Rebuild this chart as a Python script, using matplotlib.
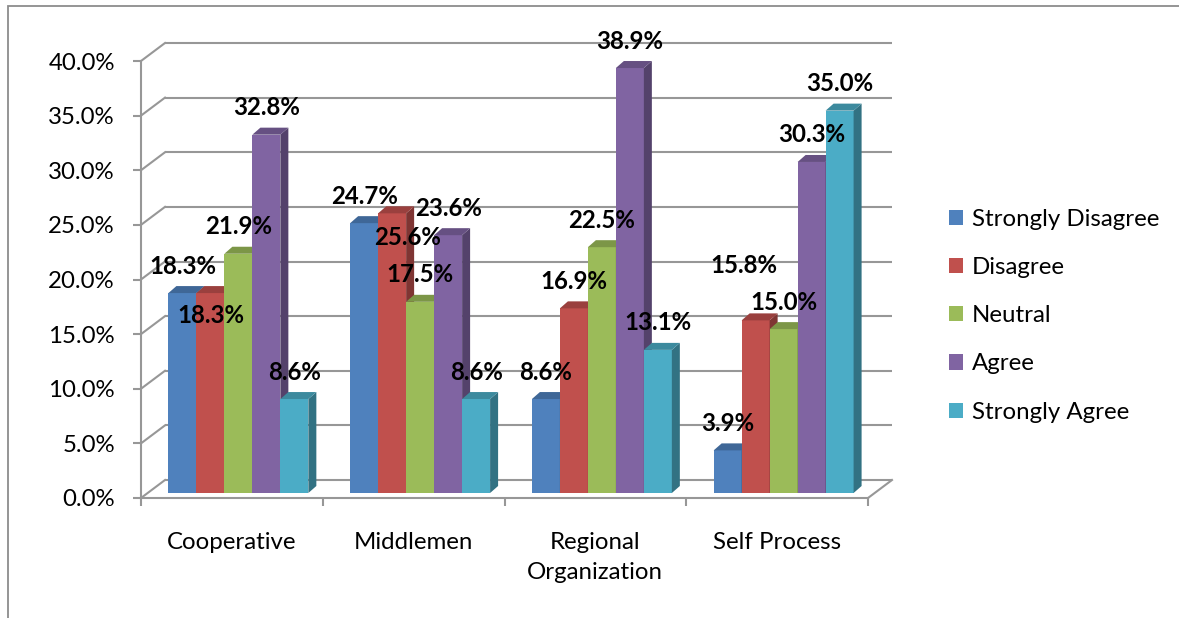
import matplotlib
matplotlib.use("Agg")
import matplotlib.pyplot as plt
from matplotlib.patches import Polygon, Rectangle, Patch
from matplotlib.lines import Line2D
from matplotlib.transforms import offset_copy, IdentityTransform
import numpy as np

# ---- data -------------------------------------------------------------
categories = ["Cooperative", "Middlemen", "Regional\nOrganization", "Self Process"]
series_names = ["Strongly Disagree", "Disagree", "Neutral", "Agree", "Strongly Agree"]
strongly_disagree = [18.3, 24.7, 8.6, 3.9]
disagree = [18.3, 25.6, 16.9, 15.8]
neutral = [21.9, 17.5, 22.5, 15.0]
agree = [32.8, 23.6, 38.9, 30.3]
strongly_agree = [8.6, 8.6, 13.1, 35.0]
y_ticks = [0, 5, 10, 15, 20, 25, 30, 35, 40]

series_values = [strongly_disagree, disagree, neutral, agree, strongly_agree]

# ---- style ------------------------------------------------------------
front_colors = ["#4F81BD", "#C0504D", "#9BBB59", "#8064A2", "#4BACC6"]
grid_color = "#979797"
FONT = "Lato"
FS = 17.3

W, H, DPI = 1179, 618, 100
plt.rcParams["font.family"] = [FONT, "DejaVu Sans"]

# pixel offsets for the pseudo-3D depth
WALL_DX, WALL_DY = 24, 18      # front plane -> back wall
BAR_DX, BAR_DY = 6.5, 5        # front plane -> bar front faces
DEPTH_DX, DEPTH_DY = 8, 7      # bar depth
BAR_W = 0.154
LABEL_RISE = 27                # px above the bar top

# individual nudges (px) for labels placed off the default spot
label_nudge = {(0, 1): (0, -22), (1, 1): (15, -24), (3, 1): (-12, 55)}


def shade(hex_color, f):
    c = np.array(matplotlib.colors.to_rgb(hex_color))
    return tuple(c * f)


fig = plt.figure(figsize=(W / DPI, H / DPI), dpi=DPI)
fig.patch.set_facecolor("white")

# outer chart border (left and top edges visible)
fig.add_artist(Rectangle((8 / W, -0.1), 1.2, (H - 6) / H + 0.1,
                         transform=fig.transFigure, fill=False,
                         edgecolor="#8c8c8c", lw=1.3))

# front plane of the plot area
ax = fig.add_axes([141 / W, (H - 498) / H, 727 / W, 437 / H])
ax.set_xlim(0, 4)
ax.set_ylim(0, 40)
ax.set_autoscale_on(False)
ax.patch.set_visible(False)
for s in ("top", "right"):
    ax.spines[s].set_visible(False)
for s in ("left", "bottom"):
    ax.spines[s].set_color(grid_color)
    ax.spines[s].set_linewidth(1.5)

ax.set_yticks(y_ticks)
ax.set_yticklabels([f"{v:.1f}%" for v in y_ticks], fontsize=FS)
ax.tick_params(axis="y", direction="out", length=5.8, width=1.5,
               color=grid_color, pad=13)
ax.set_xticks(range(len(categories) + 1))
ax.set_xticklabels([])
ax.tick_params(axis="x", which="major", direction="out", length=5.8,
               width=1.5, color=grid_color)
ax.set_xticks(np.arange(len(categories)) + 0.5, minor=True)
ax.set_xticklabels(categories, minor=True, fontsize=FS, linespacing=1.55)
ax.tick_params(axis="x", which="minor", length=0, pad=24.5)

# back wall gridlines
back_tr = offset_copy(ax.transData, fig=fig, x=WALL_DX, y=WALL_DY, units="dots")
ax.hlines(y_ticks, 0, len(categories), transform=back_tr, colors=grid_color,
          lw=1.5, zorder=1, clip_on=False)

# side-wall diagonals and floor edge
def to_px(x, y):
    return ax.transData.transform((x, y))

for v in y_ticks:
    p = to_px(0, v)
    ax.add_line(Line2D([p[0], p[0] + WALL_DX], [p[1], p[1] + WALL_DY],
                       transform=IdentityTransform(), color=grid_color,
                       lw=1.5, zorder=1, clip_on=False))
p = to_px(len(categories), 0)
ax.add_line(Line2D([p[0], p[0] + WALL_DX], [p[1], p[1] + WALL_DY],
                   transform=IdentityTransform(), color=grid_color,
                   lw=1.5, zorder=1, clip_on=False))

# bars
bar_tr = offset_copy(ax.transData, fig=fig, x=BAR_DX, y=BAR_DY, units="dots")
centers = np.arange(len(categories)) + 0.5
n = len(series_names)
z = 3.0
for ci in range(len(categories)):
    for si in range(n):
        v = series_values[si][ci]
        xc = centers[ci] + (si - (n - 1) / 2) * BAR_W
        col = front_colors[si]
        ax.bar(xc, v, width=BAR_W, color=col, transform=bar_tr,
               zorder=z, clip_on=False, linewidth=0)
        xl, yb = bar_tr.transform((xc - BAR_W / 2, 0))
        xr, yt = bar_tr.transform((xc + BAR_W / 2, v))
        ax.add_patch(Polygon([(xr, yb), (xr + DEPTH_DX, yb + DEPTH_DY),
                              (xr + DEPTH_DX, yt + DEPTH_DY), (xr, yt)],
                             closed=True, transform=IdentityTransform(),
                             facecolor=shade(col, 0.66), lw=0,
                             zorder=z + 0.001, clip_on=False))
        ax.add_patch(Polygon([(xl, yt), (xr, yt), (xr + DEPTH_DX, yt + DEPTH_DY),
                              (xl + DEPTH_DX, yt + DEPTH_DY)],
                             closed=True, transform=IdentityTransform(),
                             facecolor=shade(col, 0.8), lw=0,
                             zorder=z + 0.002, clip_on=False))
        z += 0.01
        ndx, ndy = label_nudge.get((ci, si), (0, LABEL_RISE))
        ax.annotate(f"{v:.1f}%", xy=(xc, v), xycoords=bar_tr,
                    xytext=(ndx, ndy), textcoords="offset pixels",
                    ha="center", va="center", fontsize=FS,
                    fontweight="bold", color="black", zorder=20,
                    annotation_clip=False)

# legend
handles = [Patch(facecolor=c, edgecolor="none") for c in front_colors]
fig.legend(handles, series_names, loc="upper left",
           bbox_to_anchor=(949 / W, 1 - 209 / H), frameon=False,
           fontsize=FS, handlelength=0.6, handleheight=0.6,
           handletextpad=0.36, labelspacing=1.13, borderpad=0, borderaxespad=0)

fig.savefig("out.png", dpi=DPI)
